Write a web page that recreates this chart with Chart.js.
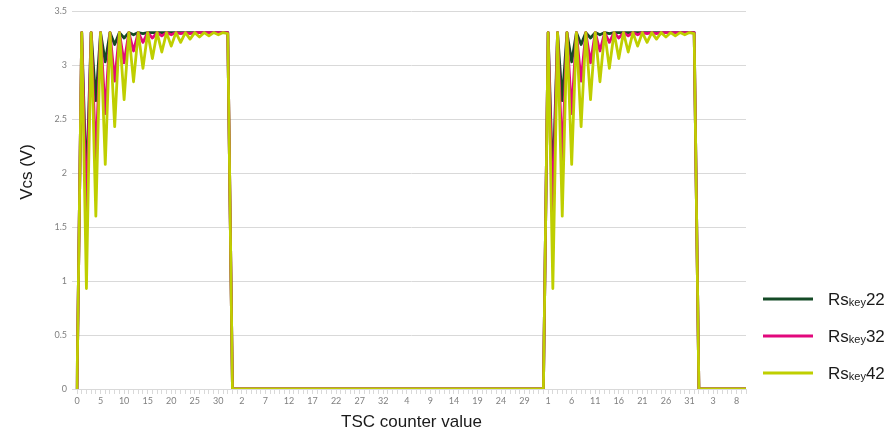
<!DOCTYPE html>
<html>
<head>
<meta charset="utf-8">
<script src="https://cdn.jsdelivr.net/npm/chart.js@4/dist/chart.umd.min.js"></script>
<style>
  html, body { margin: 0; padding: 0; background: #ffffff; }
  #wrap { position: relative; width: 891px; height: 438px; }
</style>
</head>
<body>
<div id="wrap"><canvas id="chart" width="891" height="438"></canvas></div>
<script>
// TSC counter runs 0..32, then wraps around
const counterCycle = [0,1,2,3,4,5,6,7,8,9,10,11,12,13,14,15,16,17,18,19,20,21,22,23,24,25,26,27,28,29,30,31,32];
const counterLabels = [...counterCycle, ...counterCycle, ...counterCycle, ...counterCycle, ...counterCycle.slice(0, 11)];

// Vcs (V) during one charge pulse, sampled at counter values 0..32
const rs22Pulse = [0, 3.3, 1.87, 3.3, 2.67, 3.3, 3.03, 3.3, 3.19, 3.3, 3.25, 3.3, 3.28, 3.3, 3.29, 3.3,
                   3.3, 3.3, 3.3, 3.3, 3.3, 3.3, 3.3, 3.3, 3.3, 3.3, 3.3, 3.3, 3.3, 3.3, 3.3, 3.3, 3.3];
const rs32Pulse = [0, 3.3, 1.6, 3.3, 2.12, 3.3, 2.55, 3.3, 2.85, 3.3, 3.02, 3.3, 3.13, 3.3, 3.21, 3.3,
                   3.25, 3.3, 3.27, 3.3, 3.28, 3.3, 3.29, 3.3, 3.29, 3.3, 3.3, 3.3, 3.3, 3.3, 3.3, 3.3, 3.3];
const rs42Pulse = [0, 3.3, 0.93, 3.3, 1.6, 3.3, 2.08, 3.3, 2.43, 3.3, 2.68, 3.3, 2.845, 3.3, 2.97, 3.3,
                   3.06, 3.3, 3.12, 3.3, 3.175, 3.3, 3.21, 3.3, 3.24, 3.3, 3.26, 3.3, 3.27, 3.3, 3.28, 3.3, 3.29];

// discharged (0 V) samples between the two pulses and after the second one
const idleBetween = new Array(66).fill(0);
const idleAfter = new Array(11).fill(0);

const rs22Values = [...rs22Pulse, ...idleBetween, ...rs22Pulse, ...idleAfter];
const rs32Values = [...rs32Pulse, ...idleBetween, ...rs32Pulse, ...idleAfter];
const rs42Values = [...rs42Pulse, ...idleBetween, ...rs42Pulse, ...idleAfter];

const yTicks = [0, 0.5, 1, 1.5, 2, 2.5, 3, 3.5];

const seriesColors = ['#144a26', '#e2077c', '#bfcf00'];

function lineSet(parts, values, color, order) {
  return {
    label: parts.join(''),
    nameParts: parts,
    data: values,
    borderColor: color,
    backgroundColor: color,
    borderWidth: 2.8,
    pointRadius: 0,
    pointHoverRadius: 0,
    tension: 0,
    borderJoinStyle: 'round',
    fill: false,
    order: order
  };
}

// Legend at the right, with "key" set as a subscript
const sideLegend = {
  id: 'sideLegend',
  afterDraw(chart) {
    const ctx = chart.ctx;
    const rows = [299, 336, 373];
    ctx.save();
    chart.data.datasets.forEach((ds, i) => {
      const y = rows[i];
      ctx.strokeStyle = ds.borderColor;
      ctx.lineWidth = 3;
      ctx.beginPath();
      ctx.moveTo(763, y);
      ctx.lineTo(813, y);
      ctx.stroke();

      const [main, sub, tail] = ds.nameParts;
      let x = 828;
      ctx.fillStyle = '#1a1a1a';
      ctx.textAlign = 'left';
      ctx.textBaseline = 'alphabetic';
      ctx.font = '17px "Liberation Sans", Arial, sans-serif';
      ctx.fillText(main, x, y + 6);
      x += ctx.measureText(main).width;
      ctx.font = '11px "Liberation Sans", Arial, sans-serif';
      ctx.fillText(sub, x, y + 7);
      x += ctx.measureText(sub).width;
      ctx.font = '17px "Liberation Sans", Arial, sans-serif';
      ctx.fillText(tail, x, y + 6);
    });
    ctx.restore();
  }
};

// Vertical axis title
const yAxisTitle = {
  id: 'yAxisTitle',
  afterDraw(chart) {
    const ctx = chart.ctx;
    ctx.save();
    ctx.translate(27, 172);
    ctx.rotate(-Math.PI / 2);
    ctx.fillStyle = '#1a1a1a';
    ctx.font = '17px "Liberation Sans", Arial, sans-serif';
    ctx.textAlign = 'center';
    ctx.textBaseline = 'middle';
    ctx.fillText('Vcs (V)', 0, 0);
    ctx.restore();
  }
};

new Chart(document.getElementById('chart'), {
  type: 'line',
  data: {
    labels: counterLabels,
    datasets: [
      lineSet(['Rs', 'key', '22'], rs22Values, seriesColors[0], 3),
      lineSet(['Rs', 'key', '32'], rs32Values, seriesColors[1], 2),
      lineSet(['Rs', 'key', '42'], rs42Values, seriesColors[2], 1)
    ]
  },
  options: {
    responsive: false,
    animation: false,
    devicePixelRatio: 1,
    layout: { padding: { top: 11, right: 145, left: 0, bottom: 0 } },
    plugins: {
      legend: { display: false },
      tooltip: { enabled: false }
    },
    scales: {
      x: {
        type: 'category',
        offset: false,
        grid: { display: true, drawOnChartArea: false, drawTicks: true, tickLength: 5, color: '#d9d9d9' },
        border: { display: true, color: '#d9d9d9' },
        ticks: {
          autoSkip: false,
          maxRotation: 0,
          minRotation: 0,
          padding: 2,
          color: '#808080',
          font: { family: 'Lato, "Open Sans", sans-serif', size: 9 },
          callback(value, index) {
            return index % 5 === 0 ? String(this.getLabelForValue(value)) : '';
          }
        },
        title: {
          display: true,
          text: 'TSC counter value',
          color: '#1a1a1a',
          font: { family: '"Liberation Sans", Arial, sans-serif', size: 17 },
          padding: { top: 0, bottom: 5 }
        },
        afterFit(scale) { scale.height = 49; }
      },
      y: {
        min: 0,
        max: 3.5,
        afterBuildTicks(scale) { scale.ticks = yTicks.map(v => ({ value: v })); },
        grid: { color: '#d9d9d9', drawTicks: true, tickLength: 5 },
        border: { display: false },
        ticks: {
          padding: 5,
          color: '#808080',
          font: { family: 'Lato, "Open Sans", sans-serif', size: 9 },
          callback(value) { return String(value); }
        },
        afterFit(scale) { scale.width = 77; }
      }
    }
  },
  plugins: [sideLegend, yAxisTitle]
});
</script>
</body>
</html>
